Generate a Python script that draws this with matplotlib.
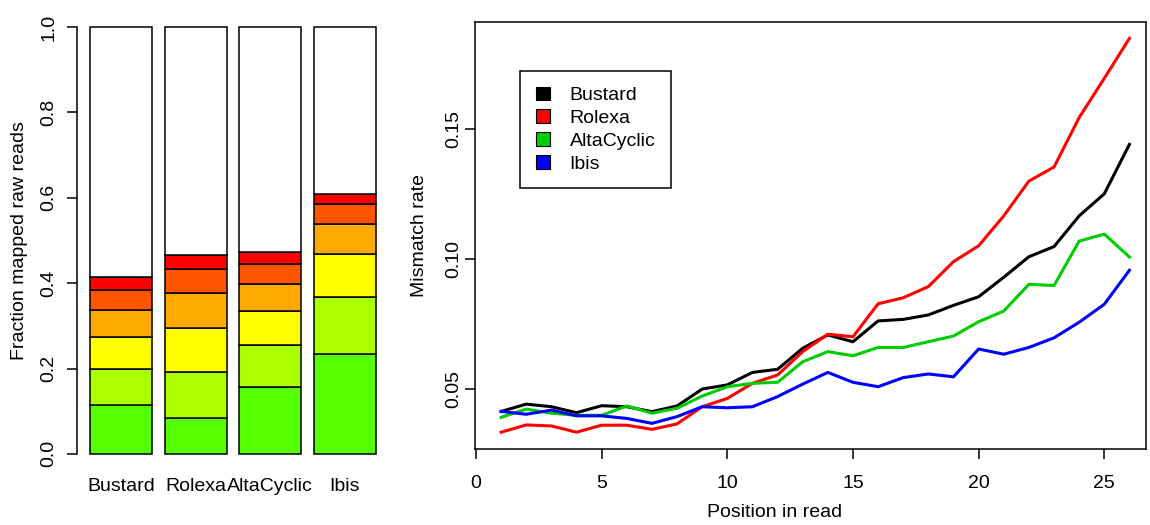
import numpy as np
import matplotlib.pyplot as plt
from matplotlib.patches import Patch

plt.rcParams['font.family'] = ['Liberation Sans', 'DejaVu Sans']
plt.rcParams['font.size'] = 14

platforms = ["Bustard", "Rolexa", "AltaCyclic", "Ibis"]

# fraction of raw reads in each mismatch class, bottom to top
bustard_frac = [0.114, 0.085, 0.076, 0.062, 0.047, 0.031]
rolexa_frac = [0.084, 0.109, 0.101, 0.082, 0.057, 0.033]
altacyclic_frac = [0.156, 0.099, 0.081, 0.062, 0.047, 0.029]
ibis_frac = [0.233, 0.135, 0.100, 0.071, 0.046, 0.024]

seg_colors = ["#55FF00", "#AAFF00", "#FFFF00", "#FFAA00", "#FF5500", "#FF0000"]

# mismatch rate per read position
position = list(range(1, 27))
bustard_mm = [0.0415, 0.0443, 0.0433, 0.0410, 0.0437, 0.0433, 0.0414, 0.0436,
              0.0501, 0.0517, 0.0565, 0.0577, 0.0658, 0.0709, 0.0683, 0.0763,
              0.0769, 0.0786, 0.0823, 0.0856, 0.0931, 0.1010, 0.1049, 0.1167,
              0.1252, 0.1442]
rolexa_mm = [0.0335, 0.0363, 0.0359, 0.0335, 0.0362, 0.0362, 0.0346, 0.0367,
             0.0433, 0.0465, 0.0523, 0.0555, 0.0645, 0.0712, 0.0702, 0.0829,
             0.0852, 0.0895, 0.0991, 0.1052, 0.1167, 0.1301, 0.1355, 0.1545,
             0.1696, 0.1850]
altacyclic_mm = [0.0392, 0.0424, 0.0408, 0.0400, 0.0400, 0.0436, 0.0408, 0.0427,
                 0.0474, 0.0510, 0.0523, 0.0527, 0.0606, 0.0645, 0.0629, 0.0661,
                 0.0661, 0.0683, 0.0705, 0.0760, 0.0801, 0.0904, 0.0899, 0.1070,
                 0.1097, 0.1009]
ibis_mm = [0.0415, 0.0404, 0.0420, 0.0398, 0.0398, 0.0388, 0.0369, 0.0395,
           0.0433, 0.0429, 0.0433, 0.0472, 0.0520, 0.0565, 0.0527, 0.0510,
           0.0545, 0.0559, 0.0548, 0.0655, 0.0635, 0.0661, 0.0698, 0.0758,
           0.0827, 0.0958]
line_colors = ["black", "#FF0000", "#00CD00", "#0000FF"]

fig = plt.figure(figsize=(11.5, 5.25), dpi=100)

# ---- left: stacked bars
ax1 = fig.add_axes([77 / 1150, 1 - 471 / 525, 310 / 1150, 461 / 525])
fracs = [bustard_frac, rolexa_frac, altacyclic_frac, ibis_frac]
centers = 0.7 + 1.2 * np.arange(len(platforms))
bottom = np.zeros(len(platforms))
for k, col in enumerate(seg_colors):
    h = np.array([f[k] for f in fracs])
    ax1.bar(centers, h, width=1.0, bottom=bottom, color=col,
            edgecolor="black", linewidth=1.1)
    bottom += h
ax1.bar(centers, 1 - bottom, width=1.0, bottom=bottom, color="white",
        edgecolor="black", linewidth=1.1)

ax1.set_xlim(-0.01, 4.98)
ax1.set_ylim(-0.04, 1.04)
for s in ["top", "right", "bottom"]:
    ax1.spines[s].set_visible(False)
ax1.spines["left"].set_bounds(0, 1)
ax1.spines["left"].set_linewidth(1.1)
ax1.set_xticks(centers, platforms)
ax1.tick_params(axis="x", length=0, pad=5)
ax1.set_yticks(np.arange(0, 1.01, 0.2), ["0.0", "0.2", "0.4", "0.6", "0.8", "1.0"])
ax1.tick_params(axis="y", direction="out", length=7, width=1.1, pad=7)
plt.setp(ax1.get_yticklabels(), rotation=90, va="center")
ax1.set_ylabel("Fraction mapped raw reads", va="center")
ax1.yaxis.set_label_coords((20 - 77) / 310, 0.5)

# ---- right: mismatch rate lines
ax2 = fig.add_axes([475 / 1150, 1 - 449 / 525, 671 / 1150, 427.3 / 525])
series = [bustard_mm, rolexa_mm, altacyclic_mm, ibis_mm]
for name, vals, col in zip(platforms, series, line_colors):
    ax2.plot(position, vals, color=col, lw=2.2)

ax2.set_xlim(-0.04, 26.66)
ax2.set_ylim(0.02704, 0.1914)
for s in ax2.spines.values():
    s.set_linewidth(1.1)
ax2.set_xticks([0, 5, 10, 15, 20, 25])
ax2.set_yticks([0.05, 0.10, 0.15], ["0.05", "0.10", "0.15"])
ax2.tick_params(direction="out", length=7, width=1.1)
ax2.tick_params(axis="x", pad=12)
ax2.tick_params(axis="y", pad=2)
plt.setp(ax2.get_yticklabels(), rotation=90, va="center")
ax2.set_xlabel("Position in read")
ax2.xaxis.set_label_coords(0.447, -0.128)
ax2.set_ylabel("Mismatch rate", va="center")
ax2.yaxis.set_label_coords((420 - 475) / 671, 0.5)

handles = [Patch(facecolor=c, edgecolor="black", linewidth=0.8) for c in line_colors]
leg = ax2.legend(handles, platforms, loc="upper left",
                 bbox_to_anchor=((520 - 475) / 671, (449 - 71) / 427.3),
                 borderaxespad=0, fancybox=False, framealpha=1,
                 edgecolor="black", handlelength=0.75, handleheight=0.7,
                 handletextpad=1.0, labelspacing=0.27, borderpad=0.8)
leg.get_frame().set_linewidth(1.1)

fig.savefig("out.png", dpi=100)
